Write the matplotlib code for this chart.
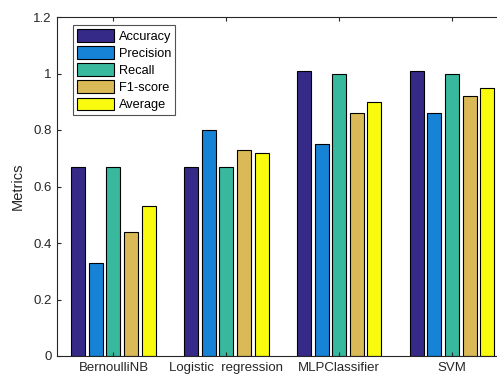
import matplotlib
matplotlib.use("Agg")
import matplotlib.pyplot as plt
import numpy as np

plt.rcParams['font.family'] = ['Liberation Sans', 'DejaVu Sans']

categories = ["BernoulliNB", "Logistic  regression", "MLPClassifier", "SVM"]
series_names = ["Accuracy", "Precision", "Recall", "F1-score", "Average"]
accuracy = [0.67, 0.67, 1.01, 1.01]
precision = [0.33, 0.80, 0.75, 0.86]
recall = [0.67, 0.67, 1.00, 1.00]
f1_score = [0.44, 0.73, 0.86, 0.92]
average = [0.53, 0.72, 0.90, 0.95]
colors = ["#352a87", "#1783d6", "#38b99e", "#d9ba56", "#f9fb0e"]

series = [accuracy, precision, recall, f1_score, average]

fig = plt.figure(figsize=(4.97, 3.76), dpi=100)
ax = fig.add_axes([57/497, 20/376, 451.5/497, 339/376])

x = np.arange(1, len(categories) + 1)
width = 0.124
spacing = 0.156
for i, (vals, name, c) in enumerate(zip(series, series_names, colors)):
    ax.bar(x + (i - 2) * spacing, vals, width, color=c, edgecolor='black',
           linewidth=0.8, label=name)

ax.set_xlim(0.5, 4.5)
ax.set_ylim(0, 1.2)
ax.set_xticks(x)
ax.set_xticklabels(categories)
ax.set_yticks([0, 0.2, 0.4, 0.6, 0.8, 1.0, 1.2])
ax.set_yticklabels(["0", "0.2", "0.4", "0.6", "0.8", "1", "1.2"])
ax.tick_params(direction='in', top=True, right=True, labelsize=9.5, colors='#262626', length=3, pad=4)
ax.set_ylabel("Metrics", fontsize=10.5, color='#262626', labelpad=6)
for s in ax.spines.values():
    s.set_linewidth(0.8)
    s.set_color('#262626')

leg = ax.legend(loc='upper left', bbox_to_anchor=(0.035, 0.975), fontsize=9.2,
                frameon=True, fancybox=False, handlelength=2.9, handleheight=1.1,
                borderpad=0.3, labelspacing=0.28, handletextpad=0.4, borderaxespad=0)
leg.get_frame().set_edgecolor('#262626')
leg.get_frame().set_linewidth(0.8)

fig.savefig("out.png", dpi=100)
